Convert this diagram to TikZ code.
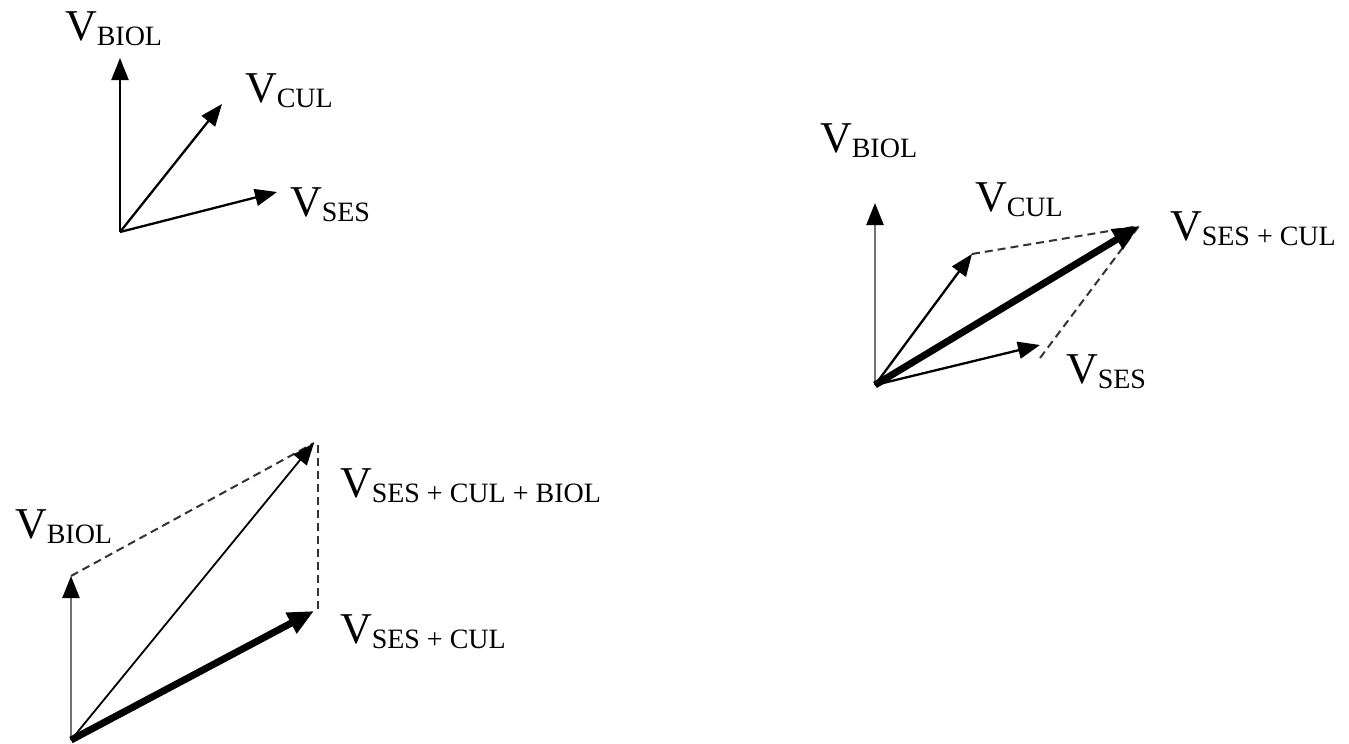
\documentclass[tikz,border=0pt]{standalone}
\usepackage{fontspec}
\setmainfont{Liberation Serif}
\usetikzlibrary{arrows.meta}
\newcommand{\vlab}[1]{\fontsize{44}{48}\selectfont V\raisebox{-5pt}{\fontsize{28}{30}\selectfont #1}}
\begin{document}
\begin{tikzpicture}[x=1pt,y=-1pt,
  vec/.style={line width=2.3pt, draw=black, -{Triangle[length=22pt,width=17pt,color=black]}},
  gvec/.style={vec, draw=black!55},
  bigvec/.style={line width=7pt, draw=black, -{Triangle[length=26pt,width=22pt]}},
  dashline/.style={line width=2pt, draw=black!80, dash pattern=on 8pt off 5pt},
  lab/.style={anchor=base west, inner sep=0pt, outer sep=0pt}]
\fill[white] (0,0) rectangle (1349,744);
\useasboundingbox (0,0) rectangle (1349,744);

% ---------- panel 1 ----------
\coordinate (o1) at (120,232);
\coordinate (b1) at (120,58);
\coordinate (c1) at (222,104);
\coordinate (s1) at (277,192);
\draw[vec] (o1) -- (b1);
\draw[vec] (o1) -- (c1);
\draw[vec] (o1) -- (s1);
\node[lab] (lb1) at (65,40) {\vlab{BIOL}};
\node[lab] (lc1) at (245,102) {\vlab{CUL}};
\node[lab] (ls1) at (290,216) {\vlab{SES}};

% ---------- panel 2 ----------
\coordinate (o2) at (875,385);
\coordinate (b2) at (875,203);
\coordinate (c2) at (972,254);
\coordinate (s2) at (1040,345);
\coordinate (t2) at (1139,226);
\coordinate (s2d) at (1040,358);
\draw[dashline] (c2) -- (t2);
\draw[dashline] (s2d) -- (t2);
\draw[gvec] (o2) -- (b2);
\draw[vec] (o2) -- (c2);
\draw[vec] (o2) -- (s2);
\draw[bigvec] (o2) -- (t2);
\node[lab] (lb2) at (820,152) {\vlab{BIOL}};
\node[lab] (lc2) at (975,211) {\vlab{CUL}};
\node[lab] (lt2) at (1170,240) {\vlab{SES + CUL}};
\node[lab] (ls2) at (1066,383) {\vlab{SES}};

% ---------- panel 3 ----------
\coordinate (o3) at (71,740);
\coordinate (b3) at (71,576);
\coordinate (t3) at (314,443);
\coordinate (m3) at (314,611);
\coordinate (v3a) at (318,445);
\coordinate (v3b) at (318,612);
\draw[dashline] (b3) -- (t3);
\draw[dashline, line width=1.6pt] (v3a) -- (v3b);
\draw[gvec] (o3) -- (b3);
\draw[vec, line width=1.8pt] (o3) -- (t3);
\draw[bigvec] (o3) -- (m3);
\node[lab] (lb3) at (15,538) {\vlab{BIOL}};
\node[lab] (lt3) at (340,497) {\vlab{SES + CUL + BIOL}};
\node[lab] (lm3) at (340,643) {\vlab{SES + CUL}};
\end{tikzpicture}
\end{document}
